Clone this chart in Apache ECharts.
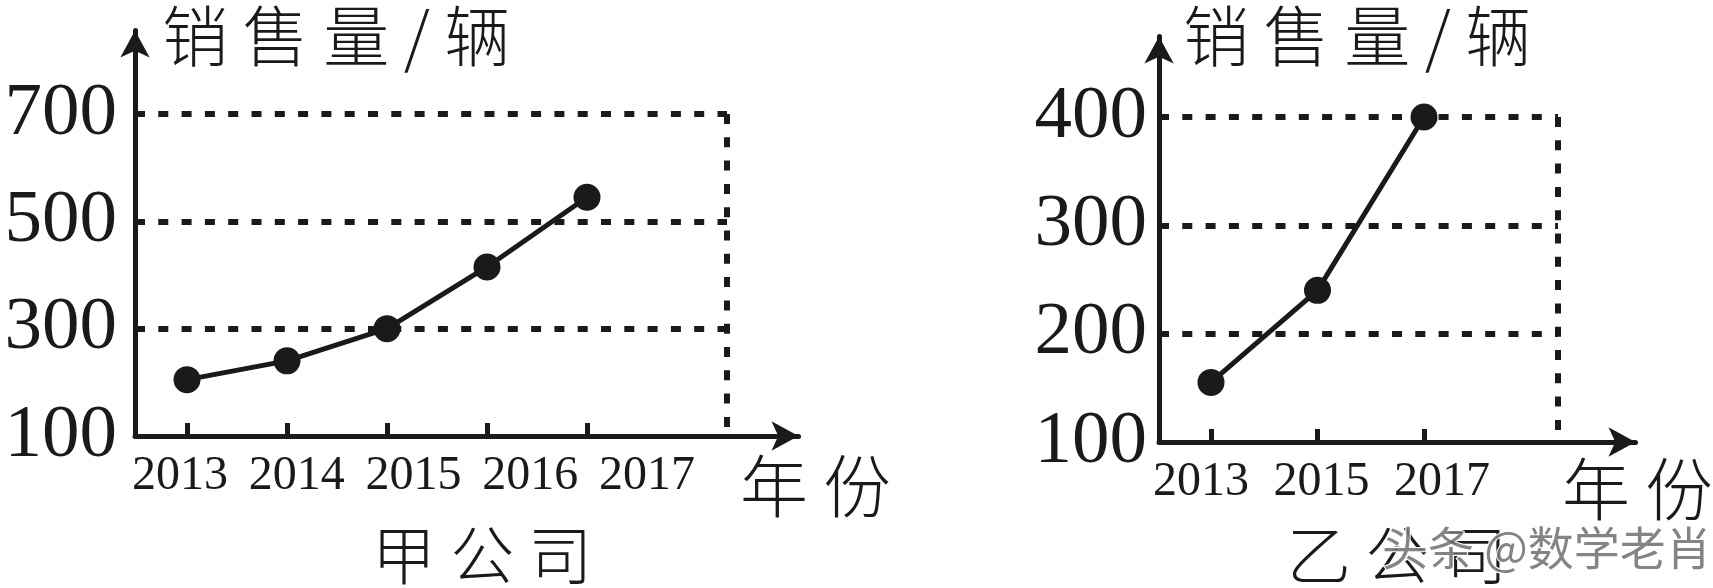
<!DOCTYPE html>
<html>
<head>
<meta charset="utf-8">
<script src="https://cdn.jsdelivr.net/npm/echarts@6/dist/echarts.min.js"></script>
<style>
html,body{margin:0;padding:0;background:#fff;}
#c{width:1713px;height:588px;}
</style>
</head>
<body>
<div id="c"></div>
<script>
// ---------------- data ----------------
const yearsA = [2013, 2014, 2015, 2016, 2017];
const salesA = [205, 240, 300, 415, 545];
const yTicksA = [100, 300, 500, 700];

const yearsB = [2013, 2015, 2017];
const salesB = [155, 240, 400];
const yTicksB = [100, 200, 300, 400];

const yNameText = '销售量/辆';
const xNameText = '年份';
const titleA = '甲公司';
const titleB = '乙公司';
const watermarkText = '头条 @数学老肖';

// ---------------- layout / style ----------------
const INK = '#1a1a1a';
const SERIF = '"Liberation Serif", "DejaVu Serif", serif';
const CJK = '"Noto Sans CJK SC", "Noto Sans", sans-serif';
const ARROW = [22, 27];

const layoutA = {
  originX: 135, originY: 436, yTopPx: 114, yArrowTip: 17, xArrowTip: 812,
  frameX: 727, year0Px: 187, yearPx: 100, label0Px: 180, labelPx: 116.75,
  yLabelMargin: 18, yName: [162, 36], xName: [740, 486], title: [372, 555]
};
const layoutB = {
  originX: 1159, originY: 442, yTopPx: 117, yArrowTip: 23, xArrowTip: 1649,
  frameX: 1558, year0Px: 1211, yearPx: 53.25, label0Px: 1201, labelPx: 60.25,
  yLabelMargin: 12, yName: [1183, 36], xName: [1562, 489], title: [1287, 555]
};

function spaced(s) { return s.split('').join(' '); }

const option = {
  animation: false,
  backgroundColor: '#fff',
  grid: [], xAxis: [], yAxis: [], series: [], graphic: []
};

function addChart(years, sales, yTicks, L, title) {
  const gi = option.grid.length;
  const yMin = yTicks[0];
  const yTop = yTicks[yTicks.length - 1];
  const lineEndY = L.yArrowTip + ARROW[1] / 2;
  const lineEndX = L.xArrowTip - ARROW[1] / 2;
  const pxPerUnit = (L.originY - L.yTopPx) / (yTop - yMin);
  const yMax = yMin + (L.originY - lineEndY) / pxPerUnit;
  const y0 = years[0];
  const xMin = y0 - (L.year0Px - L.originX) / L.yearPx;
  const xMax = y0 + (lineEndX - L.year0Px) / L.yearPx;
  const frameVal = y0 + (L.frameX - L.year0Px) / L.yearPx;
  const labMin = y0 - (L.label0Px - L.originX) / L.labelPx;
  const labMax = y0 + (lineEndX - L.label0Px) / L.labelPx;

  option.grid.push({
    left: L.originX, top: lineEndY,
    width: lineEndX - L.originX, height: L.originY - lineEndY,
    containLabel: false, outerBoundsMode: 'none', show: false
  });

  const xMainIdx = option.xAxis.length;
  option.xAxis.push({
    type: 'value', gridIndex: gi, position: 'bottom', min: xMin, max: xMax,
    axisLine: { show: true, onZero: false, symbol: ['none', 'arrow'], symbolSize: ARROW,
      lineStyle: { color: INK, width: 5 } },
    axisTick: { show: true, inside: true, length: 13, customValues: years,
      lineStyle: { color: INK, width: 5 } },
    axisLabel: { show: false },
    splitLine: { show: false }
  });
  option.xAxis.push({
    type: 'value', gridIndex: gi, position: 'bottom', min: labMin, max: labMax,
    axisLine: { show: false }, axisTick: { show: false }, splitLine: { show: false },
    axisLabel: { show: true, customValues: years, color: INK, fontFamily: SERIF,
      fontSize: 48, margin: 16, formatter: v => String(v) }
  });

  const yIdx = option.yAxis.length;
  option.yAxis.push({
    type: 'value', gridIndex: gi, min: yMin, max: yMax,
    axisLine: { show: true, onZero: false, symbol: ['none', 'arrow'], symbolSize: ARROW,
      lineStyle: { color: INK, width: 5 } },
    axisTick: { show: false },
    splitLine: { show: false },
    axisLabel: { show: true, customValues: yTicks, color: INK, fontFamily: SERIF,
      fontSize: 75, margin: L.yLabelMargin, formatter: v => String(v) }
  });

  const ml = yTicks.slice(1).map(v => [{ coord: [xMin, v] }, { coord: [frameVal, v] }]);
  ml.push([{ coord: [frameVal, yTop] }, { coord: [frameVal, yMin] }]);

  option.series.push({
    type: 'line', xAxisIndex: xMainIdx, yAxisIndex: yIdx,
    data: years.map((y, i) => [y, sales[i]]),
    symbol: 'circle', symbolSize: 27, showAllSymbol: true,
    lineStyle: { color: INK, width: 5 },
    itemStyle: { color: INK },
    z: 6,
    markLine: {
      silent: true, symbol: ['none', 'none'], label: { show: false },
      lineStyle: { color: INK, width: 6, type: [10, 13.3] },
      emphasis: { disabled: true },
      z: 3,
      data: ml
    }
  });

  option.graphic.push(
    { type: 'text', silent: true, style: { x: L.yName[0], y: L.yName[1], text: spaced(yNameText),
      fill: INK, font: '300 66px ' + CJK, textAlign: 'left', textVerticalAlign: 'middle' } },
    { type: 'text', silent: true, style: { x: L.xName[0], y: L.xName[1], text: spaced(xNameText),
      fill: INK, font: '300 68px ' + CJK, textAlign: 'left', textVerticalAlign: 'middle' } },
    { type: 'text', silent: true, style: { x: L.title[0], y: L.title[1], text: spaced(title),
      fill: INK, font: '300 64px ' + CJK, textAlign: 'left', textVerticalAlign: 'middle' } }
  );
}

addChart(yearsA, salesA, yTicksA, layoutA, titleA);
addChart(yearsB, salesB, yTicksB, layoutB, titleB);

option.graphic.push({
  type: 'text', silent: true, z: 100,
  style: { x: 1382, y: 548, text: watermarkText, fill: 'rgba(110,110,110,0.85)',
    stroke: '#fff', lineWidth: 2, font: '46px ' + CJK,
    textAlign: 'left', textVerticalAlign: 'middle' }
});

const chart = echarts.init(document.getElementById('c'), null, { renderer: 'canvas' });
chart.setOption(option);
</script>
</body>
</html>
